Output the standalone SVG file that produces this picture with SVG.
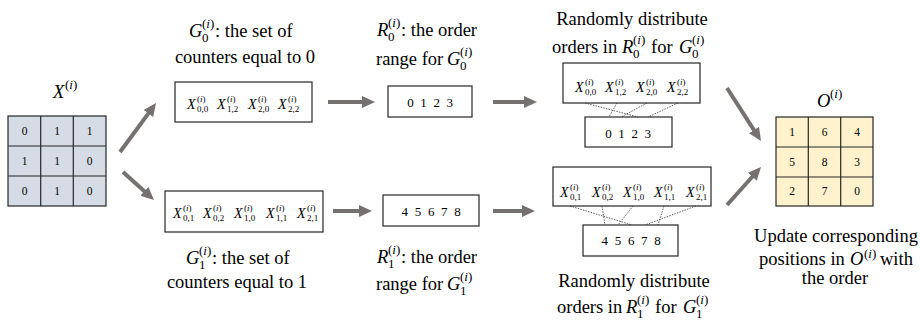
<svg xmlns="http://www.w3.org/2000/svg" width="921" height="320" viewBox="0 0 921 320" font-family="'Liberation Serif', 'Times New Roman', serif">
<style>
text{font-family:'Liberation Serif', 'Times New Roman', serif;fill:#000}
.t{font-size:18.5px}
.mi{font-style:italic}
.sp{font-size:13px;font-style:normal}
.it{font-size:14px;font-style:italic}
.is{font-size:9px;font-style:normal}
.num{font-size:13px;letter-spacing:1.7px}
.cell{font-size:11.5px;text-anchor:middle}
.mid{text-anchor:middle}
.box{fill:#fff;stroke:#262626;stroke-width:1.2}
.gx{fill:#d6dce5;stroke:#262626;stroke-width:1.2}
.go{fill:#fff2cc;stroke:#262626;stroke-width:1.2}
.arr{stroke:#767171;stroke-width:4;fill:none;marker-end:url(#ah)}
.dot{stroke:#333;stroke-width:0.8;stroke-dasharray:1.5 1.2;fill:none}
</style>
<defs>
<marker id="ah" markerUnits="userSpaceOnUse" markerWidth="14" markerHeight="12" refX="3" refY="6" orient="auto">
<path d="M0,0 L13,6 L0,12 z" fill="#767171"/>
</marker>
</defs>

<g id="X">
<text class="t mi" x="53" y="98">X<tspan class="sp" x="65" dy="-9">(<tspan class="mi">i</tspan>)</tspan></text>
<rect class="gx" x="8" y="116" width="98" height="90"/>
<path d="M40.7,116V206M73.3,116V206M8,146H106M8,176H106" stroke="#262626" stroke-width="1.2"/>
<text class="cell" x="24.5" y="135">0</text><text class="cell" x="57" y="135">1</text><text class="cell" x="89.7" y="135">1</text>
<text class="cell" x="24.5" y="165">1</text><text class="cell" x="57" y="165">1</text><text class="cell" x="89.7" y="165">0</text>
<text class="cell" x="24.5" y="195">0</text><text class="cell" x="57" y="195">1</text><text class="cell" x="89.7" y="195">0</text>
</g>

<g id="G0">
<text class="t" y="37"><tspan class="mi" x="189">G</tspan><tspan class="sp" x="202" dy="-9">(<tspan class="mi">i</tspan>)</tspan><tspan class="sp" x="202" dy="14">0</tspan><tspan x="215" dy="-5">: the set of</tspan></text>
<text class="t mid" x="245" y="63">counters equal to 0</text>
<rect class="box" x="175" y="82" width="137" height="40"/>
<text class="it" x="187" y="109">X<tspan class="is" x="197" dy="-7">(<tspan class="mi">i</tspan>)</tspan><tspan class="is" x="197" dy="10">0,0</tspan></text>
<text class="it" x="217" y="109">X<tspan class="is" x="227" dy="-7">(<tspan class="mi">i</tspan>)</tspan><tspan class="is" x="227" dy="10">1,2</tspan></text>
<text class="it" x="248" y="109">X<tspan class="is" x="258" dy="-7">(<tspan class="mi">i</tspan>)</tspan><tspan class="is" x="258" dy="10">2,0</tspan></text>
<text class="it" x="278" y="109">X<tspan class="is" x="288" dy="-7">(<tspan class="mi">i</tspan>)</tspan><tspan class="is" x="288" dy="10">2,2</tspan></text>
</g>

<g id="R0">
<text class="t" y="36"><tspan class="mi" x="377">R</tspan><tspan class="sp" x="388" dy="-9">(<tspan class="mi">i</tspan>)</tspan><tspan class="sp" x="388" dy="14">0</tspan><tspan x="401" dy="-5">: the order</tspan></text>
<text class="t" y="65"><tspan x="376">range for</tspan><tspan class="mi" x="447">G</tspan><tspan class="sp" x="460" dy="-9">(<tspan class="mi">i</tspan>)</tspan><tspan class="sp" x="460" dy="14">0</tspan></text>
<rect class="box" x="388" y="86" width="84" height="31"/>
<text class="num mid" x="431" y="107">0 1 2 3</text>
</g>

<g id="D0">
<text class="t mid" x="632" y="25">Randomly distribute</text>
<text class="t" y="53"><tspan x="552">orders in</tspan><tspan class="mi" x="622">R</tspan><tspan class="sp" x="633" dy="-9">(<tspan class="mi">i</tspan>)</tspan><tspan class="sp" x="633" dy="14">0</tspan><tspan x="651" dy="-5">for</tspan><tspan class="mi" x="679">G</tspan><tspan class="sp" x="692" dy="-9">(<tspan class="mi">i</tspan>)</tspan><tspan class="sp" x="692" dy="14">0</tspan></text>
<rect class="box" x="563" y="63" width="137" height="40"/>
<text class="it" x="575" y="92">X<tspan class="is" x="585" dy="-7">(<tspan class="mi">i</tspan>)</tspan><tspan class="is" x="585" dy="10">0,0</tspan></text>
<text class="it" x="605" y="92">X<tspan class="is" x="615" dy="-7">(<tspan class="mi">i</tspan>)</tspan><tspan class="is" x="615" dy="10">1,2</tspan></text>
<text class="it" x="636" y="92">X<tspan class="is" x="646" dy="-7">(<tspan class="mi">i</tspan>)</tspan><tspan class="is" x="646" dy="10">2,0</tspan></text>
<text class="it" x="667" y="92">X<tspan class="is" x="677" dy="-7">(<tspan class="mi">i</tspan>)</tspan><tspan class="is" x="677" dy="10">2,2</tspan></text>
<rect class="box" x="585" y="117" width="87" height="30"/>
<text class="num mid" x="629" y="138">0 1 2 3</text>
</g>

<g id="G1">
<rect class="box" x="165" y="191" width="158" height="41"/>
<text class="it" x="173" y="218">X<tspan class="is" x="183" dy="-7">(<tspan class="mi">i</tspan>)</tspan><tspan class="is" x="183" dy="10">0,1</tspan></text>
<text class="it" x="203" y="218">X<tspan class="is" x="213" dy="-7">(<tspan class="mi">i</tspan>)</tspan><tspan class="is" x="213" dy="10">0,2</tspan></text>
<text class="it" x="234" y="218">X<tspan class="is" x="244" dy="-7">(<tspan class="mi">i</tspan>)</tspan><tspan class="is" x="244" dy="10">1,0</tspan></text>
<text class="it" x="266" y="218">X<tspan class="is" x="276" dy="-7">(<tspan class="mi">i</tspan>)</tspan><tspan class="is" x="276" dy="10">1,1</tspan></text>
<text class="it" x="297" y="218">X<tspan class="is" x="307" dy="-7">(<tspan class="mi">i</tspan>)</tspan><tspan class="is" x="307" dy="10">2,1</tspan></text>
<text class="t" y="264"><tspan class="mi" x="186">G</tspan><tspan class="sp" x="199" dy="-9">(<tspan class="mi">i</tspan>)</tspan><tspan class="sp" x="199" dy="14">1</tspan><tspan x="212" dy="-5">: the set of</tspan></text>
<text class="t mid" x="237" y="288">counters equal to 1</text>
</g>

<g id="R1">
<rect class="box" x="383" y="195" width="96" height="31"/>
<text class="num mid" x="432" y="216">4 5 6 7 8</text>
<text class="t" y="263"><tspan class="mi" x="377">R</tspan><tspan class="sp" x="388" dy="-9">(<tspan class="mi">i</tspan>)</tspan><tspan class="sp" x="388" dy="14">1</tspan><tspan x="401" dy="-5">: the order</tspan></text>
<text class="t" y="290"><tspan x="376">range for</tspan><tspan class="mi" x="447">G</tspan><tspan class="sp" x="460" dy="-9">(<tspan class="mi">i</tspan>)</tspan><tspan class="sp" x="460" dy="14">1</tspan></text>
</g>

<g id="D1">
<rect class="box" x="553" y="167" width="158" height="39"/>
<text class="it" x="560" y="197">X<tspan class="is" x="570" dy="-7">(<tspan class="mi">i</tspan>)</tspan><tspan class="is" x="570" dy="10">0,1</tspan></text>
<text class="it" x="592" y="197">X<tspan class="is" x="602" dy="-7">(<tspan class="mi">i</tspan>)</tspan><tspan class="is" x="602" dy="10">0,2</tspan></text>
<text class="it" x="623" y="197">X<tspan class="is" x="633" dy="-7">(<tspan class="mi">i</tspan>)</tspan><tspan class="is" x="633" dy="10">1,0</tspan></text>
<text class="it" x="654" y="197">X<tspan class="is" x="664" dy="-7">(<tspan class="mi">i</tspan>)</tspan><tspan class="is" x="664" dy="10">1,1</tspan></text>
<text class="it" x="686" y="197">X<tspan class="is" x="696" dy="-7">(<tspan class="mi">i</tspan>)</tspan><tspan class="is" x="696" dy="10">2,1</tspan></text>
<rect class="box" x="583" y="225" width="95" height="31"/>
<text class="num mid" x="632" y="245">4 5 6 7 8</text>
<text class="t mid" x="634" y="287">Randomly distribute</text>
<text class="t" y="313"><tspan x="557">orders in</tspan><tspan class="mi" x="626">R</tspan><tspan class="sp" x="637" dy="-9">(<tspan class="mi">i</tspan>)</tspan><tspan class="sp" x="637" dy="14">1</tspan><tspan x="655" dy="-5">for</tspan><tspan class="mi" x="683">G</tspan><tspan class="sp" x="696" dy="-9">(<tspan class="mi">i</tspan>)</tspan><tspan class="sp" x="696" dy="14">1</tspan></text>
</g>

<g id="O">
<text class="t mi" x="817" y="107">O<tspan class="sp" x="830" dy="-9">(<tspan class="mi">i</tspan>)</tspan></text>
<rect class="go" x="776" y="117" width="97" height="89"/>
<path d="M808.3,117V206M840.7,117V206M776,147H873M776,177H873" stroke="#262626" stroke-width="1.2"/>
<text class="cell" x="792" y="136">1</text><text class="cell" x="824.5" y="136">6</text><text class="cell" x="857" y="136">4</text>
<text class="cell" x="792" y="166">5</text><text class="cell" x="824.5" y="166">8</text><text class="cell" x="857" y="166">3</text>
<text class="cell" x="792" y="195">2</text><text class="cell" x="824.5" y="195">7</text><text class="cell" x="857" y="195">0</text>
<text class="t mid" x="836" y="242">Update corresponding</text>
<text class="t" y="265"><tspan x="759">positions in</tspan><tspan class="mi" x="850">O</tspan><tspan class="sp" x="864" dy="-7">(<tspan class="mi">i</tspan>)</tspan><tspan x="880" dy="7">with</tspan></text>
<text class="t mid" x="835" y="284">the order</text>
</g>

<g id="connectors">
<line class="arr" x1="120" y1="152" x2="150.1" y2="111.1"/>
<line class="arr" x1="123" y1="172" x2="146.6" y2="193.3"/>
<line class="arr" x1="328" y1="102" x2="365" y2="102"/>
<line class="arr" x1="493" y1="102" x2="527" y2="102"/>
<line class="arr" x1="333" y1="211" x2="362" y2="211"/>
<line class="arr" x1="493" y1="211" x2="525" y2="211"/>
<line class="arr" x1="727" y1="88" x2="755.6" y2="132.6"/>
<line class="arr" x1="727" y1="205" x2="754.3" y2="174.5"/>
<line class="dot" x1="585" y1="103" x2="638" y2="117"/>
<line class="dot" x1="617" y1="103" x2="609" y2="117"/>
<line class="dot" x1="647" y1="103" x2="621" y2="117"/>
<line class="dot" x1="678" y1="103" x2="648" y2="117"/>
<line class="dot" x1="570" y1="206" x2="632" y2="225"/>
<line class="dot" x1="602" y1="206" x2="605" y2="225"/>
<line class="dot" x1="633" y1="206" x2="618" y2="225"/>
<line class="dot" x1="664" y1="206" x2="658" y2="225"/>
<line class="dot" x1="696" y1="206" x2="645" y2="225"/>
</g>
</svg>
